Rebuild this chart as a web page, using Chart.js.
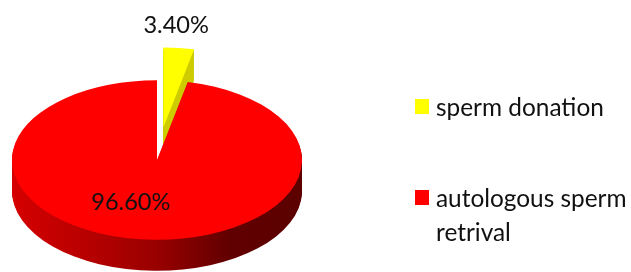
<!DOCTYPE html>
<html lang="en">
<head>
  <meta charset="UTF-8" />
  <title>Sperm source pie</title>
  <script src="https://cdn.jsdelivr.net/npm/chart.js"></script>
  <style>
    html, body { margin: 0; padding: 0; background: #fff; overflow: hidden; }
    .wrap { position: relative; width: 631px; height: 272px; }
    #pie { position: absolute; left: 0; top: 0; }
    .legend { position: absolute; left: 415px; top: 0; font-family: Lato, "Open Sans", sans-serif; font-size: 24.4px; color: #111; }
    .legend .item { position: absolute; left: 0; white-space: nowrap; line-height: 34px; }
    .legend .box { position: absolute; left: 0; width: 14px; height: 15px; }
    .legend .txt { position: absolute; left: 21px; }
  </style>
</head>
<body>
  <div class="wrap">
    <canvas id="pie" width="631" height="272"></canvas>
    <div class="legend" id="legend"></div>
  </div>

  <script>
// chart data
const labels = ['sperm donation', ['autologous sperm', 'retrival']];
const values = [3.4, 96.6];
const colors = ['#ffff00', '#ff0000'];
const explode = [60, 0];

// fake 3d look: squash the pie vertically and stack darker copies under it
const TILT = 0.55;
const DEPTH = 31;
const CENTER_Y = 160;
const labelPlace = [{ k: 1.28, dx: -7 }, { k: 0.53, dx: -18 }];

function rgb(hex) {
  const n = parseInt(hex.slice(1), 16);
  return [(n >> 16) & 255, (n >> 8) & 255, n & 255];
}
function shade(hex, f) {
  const c = rgb(hex).map(v => Math.round(v * f));
  return `rgb(${c[0]},${c[1]},${c[2]})`;
}

function arcGeom(el) {
  const off = el.options.offset || 0;
  const half = (el.startAngle + el.endAngle) / 2;
  return {
    x: el.x + Math.cos(half) * off,
    y: el.y + Math.sin(half) * off,
    r: el.outerRadius, s: el.startAngle, e: el.endAngle, half
  };
}

function tilt(ctx, cy, dz) {
  ctx.translate(0, CENTER_Y + dz);
  ctx.scale(1, TILT);
  ctx.translate(0, -cy);
}

const pie3d = {
  id: 'pie3d',
  beforeDatasetsDraw(chart) {
    const ctx = chart.ctx;
    const arcs = chart.getDatasetMeta(0).data;
    const cx = arcs[0].x, cy = arcs[0].y, R = arcs[0].outerRadius;

    // sides
    for (let dz = DEPTH; dz >= 1; dz--) {
      arcs.forEach((el, i) => {
        const g = arcGeom(el);
        const col = colors[i];
        let fill;
        // rim visible only if the slice reaches the front half
        const rimVisible = (g.e - g.s) > Math.PI / 2;
        if (rimVisible) {
          fill = ctx.createLinearGradient(cx - R, 0, cx + R, 0);
          fill.addColorStop(0, shade(col, 0.84));
          fill.addColorStop(0.5, shade(col, 0.6));
          fill.addColorStop(0.75, shade(col, 0.38));
          fill.addColorStop(1, shade(col, 0.36));
        } else {
          fill = shade(col, 0.8);
        }
        ctx.save();
        tilt(ctx, cy, dz);
        ctx.beginPath();
        ctx.moveTo(g.x, g.y);
        ctx.arc(g.x, g.y, g.r, g.s, g.e);
        ctx.closePath();
        ctx.fillStyle = fill;
        ctx.fill();
        ctx.restore();
      });
    }

    // top faces
    arcs.forEach((el, i) => {
      const g = arcGeom(el);
      ctx.save();
      tilt(ctx, cy, 0);
      ctx.beginPath();
      ctx.moveTo(g.x, g.y);
      ctx.arc(g.x, g.y, g.r, g.s, g.e);
      ctx.closePath();
      ctx.fillStyle = colors[i];
      ctx.fill();
      ctx.restore();
    });

    // value labels
    ctx.save();
    ctx.font = '23.6px Lato, "Open Sans", sans-serif';
    ctx.fillStyle = '#111';
    ctx.textAlign = 'center';
    ctx.textBaseline = 'middle';
    arcs.forEach((el, i) => {
      const g = arcGeom(el);
      const p = labelPlace[i];
      const d = g.r * p.k;
      const x = g.x + Math.cos(g.half) * d + p.dx;
      const y = CENTER_Y + (g.y + Math.sin(g.half) * d - cy) * TILT;
      ctx.fillText(values[i].toFixed(2) + '%', x, y);
    });
    ctx.restore();
    return false;
  }
};

new Chart(document.getElementById('pie'), {
  type: 'pie',
  data: {
    labels: labels,
    datasets: [{
      data: values,
      backgroundColor: colors,
      offset: explode,
      borderWidth: 0
    }]
  },
  options: {
    responsive: false,
    animation: false,
    events: [],
    radius: 145,
    layout: { padding: { left: 0, right: 317, top: 0, bottom: 0 } },
    plugins: { legend: { display: false }, tooltip: { enabled: false } }
  },
  plugins: [pie3d]
});

// legend
const legendTops = [90, 181];
const legend = document.getElementById('legend');
labels.forEach((lab, i) => {
  const item = document.createElement('div');
  item.className = 'item';
  item.style.top = legendTops[i] + 'px';
  const lines = Array.isArray(lab) ? lab : [lab];
  item.innerHTML = `<span class="box" style="background:${colors[i]};top:9px"></span>` +
    `<span class="txt">${lines.join('<br>')}</span>`;
  legend.appendChild(item);
});
  </script>
</body>
</html>
